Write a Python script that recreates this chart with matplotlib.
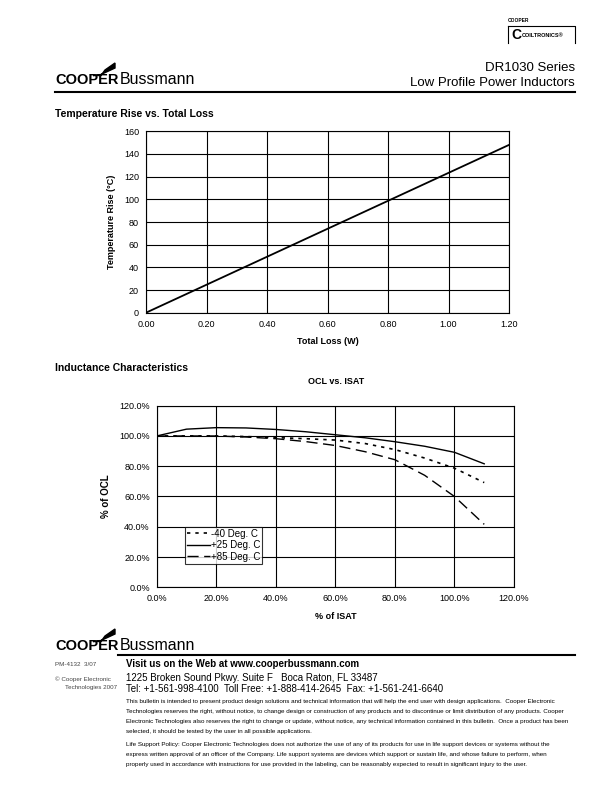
import matplotlib.pyplot as plt
from matplotlib.patches import Polygon
import numpy as np

plt.rcParams['font.family'] = ['Liberation Sans', 'DejaVu Sans']

# temperature rise vs total loss
loss_w = [0.0, 1.2]
temp_rise = [0, 148]

# OCL vs ISAT (percent)
isat_pct = [0, 10, 20, 30, 40, 50, 60, 70, 80, 90, 100, 110]
ocl_m40 = [100, 100, 100, 99.6, 98.9, 98.2, 97.3, 95, 91, 85.4, 78.7, 69.2]
ocl_p25 = [100, 104.5, 105.5, 105.3, 104.3, 102.8, 100.8, 98.8, 96.2, 93.2, 89.2, 81.6]
ocl_p85 = [100, 100, 100, 99.3, 98.2, 96.3, 93.7, 89.6, 84.3, 74, 60, 41.6]

W, H = 612, 792
fig = plt.figure(figsize=(6.12, 7.92), dpi=100)


def fx(x):
    return x / W


def fy(y):
    return 1 - y / H


def logo(x, y):
    # COOPER Bussmann logo, x,y = left baseline in px
    fig.text(fx(x), fy(y), 'COOPER', fontsize=10.5, fontweight='heavy',
             ha='left', va='baseline')
    fig.text(fx(x + 65), fy(y), 'Bussmann', fontsize=11.5,
             ha='left', va='baseline')
    pts = [(x + 38, y - 8.5), (x + 46, y - 8.5), (x + 50, y - 14),
           (x + 60, y - 21), (x + 60, y - 16), (x + 46, y - 9.5)]
    fig.patches.append(Polygon([(fx(a), fy(b)) for a, b in pts], closed=True,
                               transform=fig.transFigure, color='black'))


# header
logo(55, 84)
fig.text(fx(575), fy(71), 'DR1030 Series', fontsize=9.5, ha='right')
fig.text(fx(575), fy(86), 'Low Profile Power Inductors', fontsize=9.5, ha='right')
fig.add_artist(plt.Line2D([fx(55), fx(575)], [fy(92), fy(92)], color='black',
                          lw=1.5, transform=fig.transFigure))

# coiltronics badge
fig.text(fx(508), fy(22), 'COOPER', fontsize=3.5, fontweight='bold')
fig.add_artist(plt.Line2D([fx(508), fx(575), fx(575)], [fy(26), fy(26), fy(43)],
                          color='black', lw=0.8, transform=fig.transFigure))
fig.add_artist(plt.Line2D([fx(508), fx(508)], [fy(26), fy(43)],
                          color='black', lw=0.8, transform=fig.transFigure))
fig.text(fx(511), fy(39), 'C', fontsize=10, fontweight='heavy', va='baseline')
fig.text(fx(522), fy(37), 'COILTRONICS\u00ae', fontsize=4, fontweight='bold',
         va='baseline')

# chart 1
fig.text(fx(55), fy(117), 'Temperature Rise vs. Total Loss', fontsize=7.5,
         fontweight='bold')
ax1 = fig.add_axes([146 / W, 1 - 312.7 / H, 363 / W, 181.4 / H])
ax1.plot(loss_w, temp_rise, color='black', lw=1.3)
ax1.set_xlim(0, 1.2)
ax1.set_ylim(0, 160)
ax1.set_xticks(np.arange(0, 1.21, 0.2))
ax1.set_xticklabels(['%.2f' % v for v in np.arange(0, 1.21, 0.2)])
ax1.set_yticks(range(0, 161, 20))
ax1.grid(True, color='black', lw=0.8)
ax1.tick_params(labelsize=6.5, length=0, pad=5)
ax1.set_xlabel('Total Loss (W)', fontsize=6.5, fontweight='bold', labelpad=6)
ax1.set_ylabel('Temperature Rise (\u00b0C)', fontsize=6.5, fontweight='bold',
               labelpad=6)
for sp in ax1.spines.values():
    sp.set_linewidth(0.8)

# chart 2
fig.text(fx(55), fy(371), 'Inductance Characteristics', fontsize=7.5,
         fontweight='bold')
fig.text(fx(336), fy(384), 'OCL vs. ISAT', fontsize=6.5, fontweight='bold',
         ha='center')
ax2 = fig.add_axes([156.7 / W, 1 - 587.3 / H, 357.3 / W, 181.6 / H])
ax2.plot(isat_pct, ocl_m40, color='black', lw=1.2, ls=(0, (2, 3)),
         label='-40 Deg. C')
ax2.plot(isat_pct, ocl_p25, color='black', lw=1.0, ls='-',
         label='+25 Deg. C')
ax2.plot(isat_pct, ocl_p85, color='black', lw=1.0, ls=(0, (8, 4)),
         label='+85 Deg. C')
ax2.set_xlim(0, 120)
ax2.set_ylim(0, 120)
ax2.set_xticks(range(0, 121, 20))
ax2.set_xticklabels(['%.1f%%' % v for v in range(0, 121, 20)])
ax2.set_yticks(range(0, 121, 20))
ax2.set_yticklabels(['%.1f%%' % v for v in range(0, 121, 20)])
ax2.grid(True, color='black', lw=0.8)
ax2.tick_params(labelsize=6.5, length=0, pad=5)
ax2.set_xlabel('% of ISAT', fontsize=6.5, fontweight='bold', labelpad=6)
ax2.set_ylabel('% of OCL', fontsize=7, fontweight='bold', labelpad=6)
for sp in ax2.spines.values():
    sp.set_linewidth(0.8)
leg = ax2.legend(loc='lower left', bbox_to_anchor=(0.079, 0.13), fontsize=7,
                 frameon=True, fancybox=False, edgecolor='black',
                 borderpad=0.2, labelspacing=0.15, handlelength=2.4,
                 handletextpad=0.1, borderaxespad=0)
leg.get_frame().set_linewidth(0.8)

# footer
logo(55, 650)
fig.add_artist(plt.Line2D([fx(118), fx(575)], [fy(655), fy(655)], color='black',
                          lw=1.5, transform=fig.transFigure))
fig.text(fx(55), fy(666), 'PM-4132  3/07', fontsize=4.5, color='#444444')
fig.text(fx(55), fy(681), '\u00a9 Cooper Electronic', fontsize=4.5,
         color='#444444')
fig.text(fx(65), fy(689), 'Technologies 2007', fontsize=4.5, color='#444444')
fig.text(fx(126), fy(667), 'Visit us on the Web at www.cooperbussmann.com',
         fontsize=7, fontweight='bold')
fig.text(fx(126), fy(681), '1225 Broken Sound Pkwy. Suite F   Boca Raton, FL 33487',
         fontsize=7)
fig.text(fx(126), fy(692),
         'Tel: +1-561-998-4100  Toll Free: +1-888-414-2645  Fax: +1-561-241-6640',
         fontsize=7)
fine = [
    ('This bulletin is intended to present product design solutions and technical information that will help the end user with design applications.  Cooper Electronic', 703),
    ('Technologies reserves the right, without notice, to change design or construction of any products and to discontinue or limit distribution of any products. Cooper', 713),
    ('Electronic Technologies also reserves the right to change or update, without notice, any technical information contained in this bulletin.  Once a product has been', 723),
    ('selected, it should be tested by the user in all possible applications.', 733),
    ('Life Support Policy: Cooper Electronic Technologies does not authorize the use of any of its products for use in life support devices or systems without the', 746),
    ('express written approval of an officer of the Company. Life support systems are devices which support or sustain life, and whose failure to perform, when', 756),
    ('properly used in accordance with instructions for use provided in the labeling, can be reasonably expected to result in significant injury to the user.', 766),
]
for line, y in fine:
    fig.text(fx(126), fy(y), line, fontsize=4.5)

fig.savefig('out.png', dpi=100)
